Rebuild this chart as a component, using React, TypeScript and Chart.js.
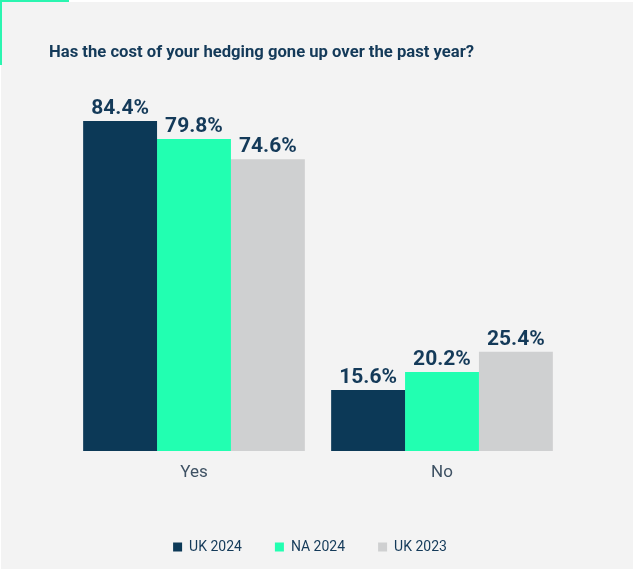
import React, { useEffect, useRef } from "react";
import { Chart, registerables } from "chart.js";

Chart.register(...registerables);

const categories = ["Yes", "No"];
const seriesNames = ["UK 2024", "NA 2024", "UK 2023"];
const uk2024 = [84.4, 15.6];
const na2024 = [79.8, 20.2];
const uk2023 = [74.6, 25.4];
const titleText = "Has the cost of your hedging gone up over the past year?";

const NAVY = "#0c3957";
const MINT = "#22ffb1";
const GREY = "#cfd0d1";
const TEXT = "#143a59";

const backgroundPlugin = {
  id: "bgPlugin",
  beforeDraw(chart: any) {
    const { ctx, width, height } = chart;
    ctx.save();
    ctx.fillStyle = "#ffffff";
    ctx.fillRect(0, 0, width, height);
    ctx.fillStyle = "#f3f3f3";
    ctx.fillRect(1, 2, width - 1, height - 5);
    ctx.fillStyle = "#2af5b0";
    ctx.fillRect(0, 0, 69, 2);
    ctx.fillRect(0, 0, 2, 65);
    ctx.restore();
  },
};

const legendShiftPlugin = {
  id: "legendShift",
  afterLayout(chart: any) {
    if (chart.legend) {
      chart.legend.left -= 8;
      chart.legend.right -= 8;
    }
  },
};

const titlePlugin = {
  id: "titlePlugin",
  afterDraw(chart: any) {
    const { ctx } = chart;
    ctx.save();
    ctx.font = "bold 16px Roboto";
    ctx.fillStyle = TEXT;
    ctx.textAlign = "left";
    ctx.textBaseline = "alphabetic";
    const w = ctx.measureText(titleText).width;
    const target = 425;
    ctx.translate(49, 57);
    ctx.scale(target / w, 1);
    ctx.fillText(titleText, 0, 0);
    ctx.restore();
  },
};

const labelPlugin = {
  id: "labelPlugin",
  afterDatasetsDraw(chart: any) {
    const { ctx } = chart;
    ctx.save();
    ctx.font = "bold 21px Roboto";
    ctx.fillStyle = TEXT;
    ctx.textAlign = "center";
    ctx.textBaseline = "alphabetic";
    chart.data.datasets.forEach((ds: any, i: number) => {
      const meta = chart.getDatasetMeta(i);
      meta.data.forEach((el: any, j: number) => {
        const v = ds.data[j] as number;
        ctx.fillText(v.toFixed(1) + "%", el.x, el.y - 7);
      });
    });
    ctx.restore();
  },
};

export default function App() {
  const ref = useRef<HTMLCanvasElement>(null);
  useEffect(() => {
    if (!ref.current) return;
    Chart.defaults.font.family = "Roboto";
    const chart = new Chart(ref.current, {
      type: "bar",
      data: {
        labels: categories,
        datasets: [
          { label: seriesNames[0], data: uk2024, backgroundColor: NAVY },
          { label: seriesNames[1], data: na2024, backgroundColor: MINT },
          { label: seriesNames[2], data: uk2023, backgroundColor: GREY },
        ],
      },
      options: {
        responsive: false,
        animation: false,
        layout: { padding: { top: 60, left: 70, right: 67, bottom: 8 } },
        datasets: {
          bar: { categoryPercentage: 0.894, barPercentage: 1, borderWidth: 0 },
        } as any,
        scales: {
          x: {
            grid: { display: false, drawTicks: false },
            border: { display: false },
            ticks: { color: "#3e5163", font: { size: 17 }, padding: 12 },
            afterFit: (scale: any) => {
              scale.height = 56;
            },
          },
          y: { display: false, min: 0, max: 100 },
        },
        plugins: {
          legend: {
            position: "bottom",
            labels: {
              boxWidth: 9,
              boxHeight: 9,
              padding: 33,
              color: TEXT,
              font: { size: 14 },
            },
          },
          tooltip: { enabled: false },
          title: { display: false },
        },
      },
      plugins: [backgroundPlugin, legendShiftPlugin, titlePlugin, labelPlugin],
    });
    return () => chart.destroy();
  }, []);
  return (
    <div style={{ position: "fixed", left: 0, top: 0, width: 633, height: 572 }}>
      <canvas ref={ref} width={633} height={572} style={{ display: "block" }} />
    </div>
  );
}
